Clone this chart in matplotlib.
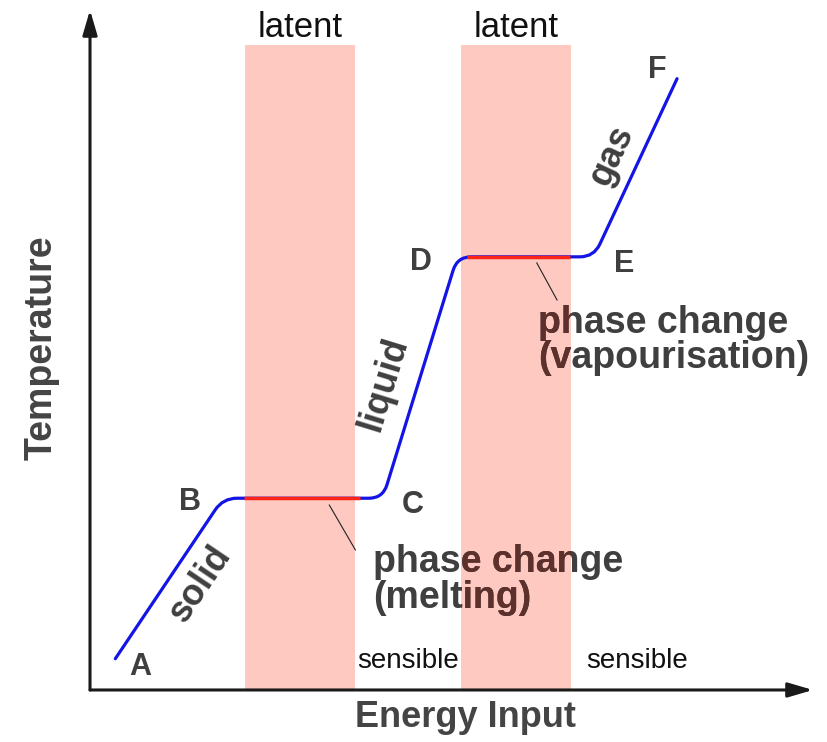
import matplotlib
matplotlib.use("Agg")
import numpy as np
import matplotlib.pyplot as plt
from matplotlib.path import Path
from matplotlib.patches import PathPatch, Rectangle
from matplotlib.transforms import Bbox, TransformedBbox

plt.rcParams['font.family'] = ['Liberation Sans', 'DejaVu Sans']

# ---------------- data ----------------
point_names = ['A', 'B', 'C', 'D', 'E', 'F']
energy = [3.5, 18.4, 40.5, 50.8, 69.7, 81.2]          # energy input (arbitrary units)
temperature = [4.6, 28.2, 28.2, 63.7, 63.7, 89.9]     # temperature (arbitrary units)
latent_bands = [(21.4, 36.7), (51.3, 66.5)]
band_top = 94.9
phase_change_spans = [(21.3, 37.3), (52.1, 66.4)]
phase_names = ['solid', 'liquid', 'gas']
band_labels = ['latent', 'latent']
sensible_labels = ['sensible', 'sensible']
phase_change_labels = [('phase change', '(melting)'), ('phase change', '(vapourisation)')]

# ---------------- figure ----------------
W, H = 827, 742
fig = plt.figure(figsize=(W / 100, H / 100), dpi=100)
ax = fig.add_axes([0, 0, 1, 1])
XL = (-12.45, 101.94)
YL = (-7.65, 101.47)
ax.set_xlim(*XL)
ax.set_ylim(*YL)
ax.axis('off')
SX = W / (XL[1] - XL[0])
SY = H / (YL[1] - YL[0])

GRAY = '#3f3f3f'
DARK_IN_BAND = '#5e302c'
BAND = '#fdc9c1'
BLUE = '#1414e6'
RED = '#ff2418'

# latent bands
for (x0, x1) in latent_bands:
    ax.add_patch(Rectangle((x0, 0), x1 - x0, band_top, facecolor=BAND,
                           edgecolor='none', zorder=1))

# heating curve with rounded corners
def rounded_path(xs, ys, r_px=14):
    verts = [(xs[0], ys[0])]
    codes = [Path.MOVETO]
    for i in range(1, len(xs) - 1):
        P = np.array([xs[i] * SX, ys[i] * SY])
        prv = np.array([xs[i - 1] * SX, ys[i - 1] * SY])
        nxt = np.array([xs[i + 1] * SX, ys[i + 1] * SY])
        u1 = (prv - P) / np.linalg.norm(prv - P)
        u2 = (nxt - P) / np.linalg.norm(nxt - P)
        p1 = P + r_px * u1
        p2 = P + r_px * u2
        sc = np.array([SX, SY])
        verts += [tuple(p1 / sc), tuple(P / sc), tuple(p2 / sc)]
        codes += [Path.LINETO, Path.CURVE3, Path.CURVE3]
    verts.append((xs[-1], ys[-1]))
    codes.append(Path.LINETO)
    return Path(verts, codes)

ax.add_patch(PathPatch(rounded_path(energy, temperature), facecolor='none',
                       edgecolor=BLUE, lw=2.3, capstyle='round', zorder=3))
for (x0, x1), yv in zip(phase_change_spans, [temperature[1], temperature[3]]):
    ax.plot([x0, x1], [yv, yv], color=RED, lw=2.5, solid_capstyle='butt', zorder=4)

# axes arrows
for xy in [(100, 0), (0, 100)]:
    ax.annotate('', xy=xy, xytext=(0, 0),
                arrowprops=dict(arrowstyle='-|>,head_length=0.75,head_width=0.22',
                                mutation_scale=20, lw=2.2, color='#1a1a1a',
                                shrinkA=0, shrinkB=0), zorder=5)

def band_text(x, y, s, band=None, color=GRAY, **kw):
    ax.text(x, y, s, color=color, zorder=6, **kw)
    if band is not None:
        t = ax.text(x, y, s, color=DARK_IN_BAND, zorder=7, **kw)
        bb = TransformedBbox(Bbox([[band[0], 0], [band[1], band_top]]), ax.transData)
        t.set_clip_box(bb)
        t.set_clip_on(True)

# axis titles
ax.text(51.9, -5.4, 'Energy Input', ha='center', va='baseline', fontsize=26,
        fontweight='bold', color='#444444')
ax.text(-6.7, 50.4, 'Temperature', ha='center', va='center', rotation=90,
        fontsize=27, fontweight='bold', color='#444444')

# band labels
for (x0, x1), lab in zip(latent_bands, band_labels):
    ax.text((x0 + x1) / 2, 96.0, lab, ha='center', va='baseline', fontsize=25,
            color='#111111')
for xc, lab in zip([44.0, 75.7], sensible_labels):
    ax.text(xc, 3.3, lab, ha='center', va='baseline', fontsize=20, color='#111111')

# point labels
label_pos = [(6.9, 2.2), (13.8, 26.5), (44.7, 26.0), (45.8, 61.8), (73.9, 61.5), (78.4, 90.0)]
for name, (lx, ly) in zip(point_names, label_pos):
    ax.text(lx, ly, name, ha='center', va='baseline', fontsize=22,
            fontweight='bold', color=GRAY)

# phase names along the curve
for name, (px, py), rot in zip(phase_names, [(15.3, 15.6), (40.6, 45.0), (72.2, 78.6)],
                               [56, 73, 65]):
    ax.text(px, py, name, ha='center', va='center', rotation=rot,
            rotation_mode='anchor', fontsize=26, fontweight='bold', color=GRAY)

# phase change annotations
melt_lines = [(39.1, 17.35), (39.1, 12.06)]
vap_lines = [(62.0, 52.5), (62.0, 47.35)]
for (l1, l2), lines in zip(phase_change_labels, [melt_lines, vap_lines]):
    for s, (tx, ty) in zip([l1, l2], lines):
        band_text(tx, ty, s, band=latent_bands[1], ha='left', va='baseline',
                  fontsize=27, fontweight='bold')

# leader lines
ax.plot([33.1, 36.7], [27.2, 20.6], color='#222222', lw=0.8, zorder=5)
ax.plot([61.8, 64.6], [62.8, 57.35], color='#222222', lw=0.8, zorder=5)

fig.savefig('out.png', dpi=100)
